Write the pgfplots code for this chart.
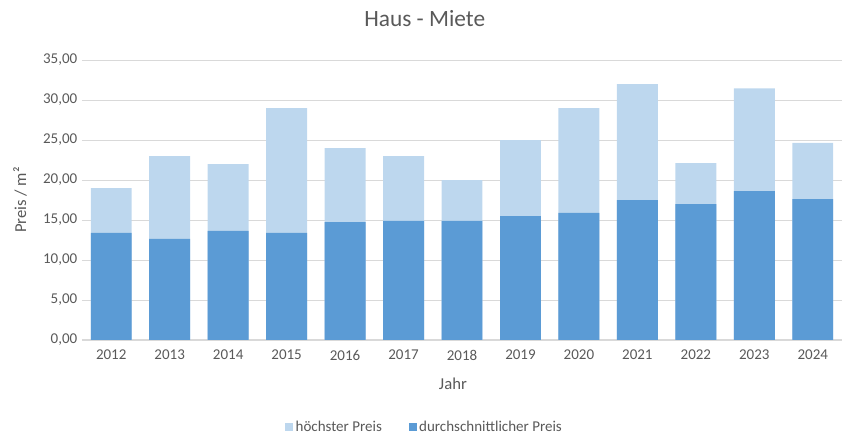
\documentclass[border=0pt]{standalone}
\usepackage{fontspec}
\setmainfont{Carlito}
\usepackage{pgfplots}
\pgfplotsset{compat=1.18}
\definecolor{avgc}{HTML}{5B9BD5}
\definecolor{highc}{HTML}{BDD7EE}
\definecolor{gridc}{HTML}{D9D9D9}
\definecolor{txtc}{HTML}{595959}
\begin{document}
\begin{tikzpicture}
\useasboundingbox (-61.5pt,-79.5pt) rectangle (576pt,255pt);
\begin{axis}[
  scale only axis, width=570pt, height=210pt,
  xmin=-0.5, xmax=12.5, ymin=0, ymax=35,
  ytick={0,5,...,35},
  xtick={0,...,12},
  xticklabels={2012,2013,2014,2015,2016,2017,2018,2019,2020,2021,2022,2023,2024},
  ybar, bar width=0.7,
  axis line style={draw=none},
  major tick length=0pt,
  ymajorgrids, grid style={gridc, line width=0.75pt},
  tick label style={font=\fontsize{11.25}{13}\selectfont, text=txtc},
  yticklabel style={/pgf/number format/.cd, fixed, fixed zerofill, precision=2, use comma, assume math mode=true},
  xticklabel style={/pgf/number format/assume math mode=true, yshift=-4pt},
  title={Haus - Miete},
  title style={at={(axis description cs:0.451,1.118)}, anchor=center, font=\fontsize{17.5}{20}\selectfont, text=txtc},
  xlabel={Jahr},
  xlabel style={at={(axis description cs:0.488,-0.157)}, anchor=center, font=\fontsize{12.5}{15}\selectfont, text=txtc},
  ylabel={Preis / m²},
  ylabel style={at={(axis description cs:-0.0816,0.5)}, anchor=center, rotate=0, font=\fontsize{12.5}{15}\selectfont, text=txtc},
  legend style={at={(axis description cs:0.451,-0.311)}, anchor=center, draw=none, legend columns=2, font=\fontsize{11.25}{13}\selectfont, text=txtc, /tikz/every even column/.append style={column sep=18pt}},
  legend image code/.code={\fill[#1] (0pt,-3pt) rectangle (6pt,3pt);},
]
\addplot[fill=highc, draw=none, bar shift=0pt] coordinates {
(0,19) (1,23) (2,22) (3,29) (4,24) (5,23) (6,20) (7,25) (8,29) (9,32) (10,22.1) (11,31.45) (12,24.65)};
\addlegendentry{höchster Preis}
\addplot[fill=avgc, draw=none, bar shift=0pt] coordinates {
(0,13.4) (1,12.65) (2,13.65) (3,13.4) (4,14.75) (5,14.9) (6,14.9) (7,15.5) (8,15.9) (9,17.5) (10,17.0) (11,18.6) (12,17.6)};
\addlegendentry{durchschnittlicher Preis}
\end{axis}
\end{tikzpicture}
\end{document}
